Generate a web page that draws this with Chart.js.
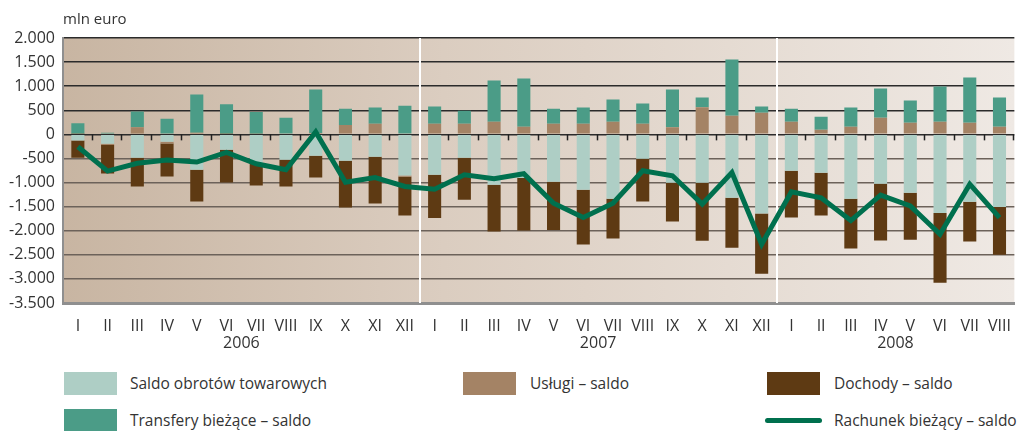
<!DOCTYPE html>
<html lang="pl">
<head>
<meta charset="utf-8">
<title>Rachunek bieżący</title>
<script src="https://cdn.jsdelivr.net/npm/chart.js@4.4.1/dist/chart.umd.min.js"></script>
<style>
    html, body { margin: 0; padding: 0; background: #fff; overflow: hidden; }
    #wrap { position: relative; width: 1017px; height: 431px; font-family: "Open Sans", sans-serif; color: #333; }
    #chartBox { position: absolute; left: 0; top: 0; width: 1017px; height: 360px; }
    .lg-box { position: absolute; width: 53px; height: 23px; }
    .lg-line { position: absolute; width: 57px; height: 5px; border-radius: 3px; background: #00704e; }
    .lg-txt { position: absolute; font-size: 15.5px; line-height: 20px; white-space: nowrap; }
</style>
</head>
<body>
<div id="wrap">
    <div id="chartBox"><canvas id="grafica"></canvas></div>
    <div class="lg-box" style="left:64px; top:372px; background:#aecec5;"></div>
    <div class="lg-txt" style="left:130px; top:373px;">Saldo obrotów towarowych</div>
    <div class="lg-box" style="left:463px; top:372px; background:#a48365;"></div>
    <div class="lg-txt" style="left:530px; top:373px;">Usługi – saldo</div>
    <div class="lg-box" style="left:767px; top:372px; background:#5e3a13;"></div>
    <div class="lg-txt" style="left:834px; top:373px;">Dochody – saldo</div>
    <div class="lg-box" style="left:64px; top:409px; background:#4b9c87;"></div>
    <div class="lg-txt" style="left:130px; top:410px;">Transfery bieżące – saldo</div>
    <div class="lg-line" style="left:765px; top:418px;"></div>
    <div class="lg-txt" style="left:834px; top:410px;">Rachunek bieżący – saldo</div>
</div>
<script>
// --- DATOS (mln euro) ---
const meses = ['I', 'II', 'III', 'IV', 'V', 'VI', 'VII', 'VIII', 'IX', 'X', 'XI', 'XII',
               'I', 'II', 'III', 'IV', 'V', 'VI', 'VII', 'VIII', 'IX', 'X', 'XI', 'XII',
               'I', 'II', 'III', 'IV', 'V', 'VI', 'VII', 'VIII'];
const anios = ['2006', '2007', '2008'];
const mesesPorAnio = [12, 12, 8];

const saldoTowarowe = [-125, -195, -485, -153, -735, -319, -596, -527, -444, -548, -465, -853,
                       -839, -485, -1047, -908, -985, -1151, -1338, -506, -1006, -1006, -1318, -1644,
                       -756, -798, -1338, -1026, -1214, -1630, -1401, -1505];
const uslugi = [10, -28, 146, -35, 35, 10, 15, 20, 28, 194, 222, -28,
                222, 222, 264, 160, 222, 222, 264, 222, 146, 562, 388, 451,
                264, 97, 160, 347, 243, 264, 243, 160];
const dochody = [-360, -590, -596, -687, -659, -680, -465, -555, -451, -971, -971, -804,
                 -895, -874, -971, -1089, -999, -1137, -825, -888, -804, -1200, -1033, -1248,
                 -971, -888, -1033, -1179, -971, -1449, -825, -992];
const transfery = [222, 35, 326, 326, 790, 617, 451, 326, 902, 340, 333, 596,
                   354, 270, 853, 999, 312, 333, 458, 416, 784, 201, 1165, 125,
                   270, 270, 395, 603, 458, 728, 936, 603];
const rachunek = [-257, -763, -600, -534, -575, -374, -610, -735, 49, -992, -895, -1082,
                  -1137, -839, -922, -818, -1429, -1727, -1429, -756, -860, -1449, -791, -2280,
                  -1193, -1318, -1789, -1262, -1484, -2074, -1033, -1727];

const yTicks = { min: -3500, max: 2000, step: 500 };

const fuente = '"Open Sans", sans-serif';

function formatoMiles(v) {
    const s = Math.abs(v).toString().replace(/\B(?=(\d{3})+(?!\d))/g, '.');
    return (v < 0 ? '-' : '') + s;
}

// --- PLUGIN: fondo, separadores de año, marcas en 0, textos ---
const decoracion = {
    id: 'decoracion',
    beforeDraw(chart) {
        const { ctx, chartArea: a } = chart;
        const g = ctx.createLinearGradient(a.left, 0, a.right, 0);
        g.addColorStop(0, '#c8b5a2');
        g.addColorStop(0.4, '#dbcdc0');
        g.addColorStop(1, '#efe9e4');
        ctx.save();
        ctx.fillStyle = g;
        ctx.fillRect(a.left, a.top, a.right - a.left, a.bottom - a.top);
        ctx.restore();
    },
    beforeDatasetsDraw(chart) {
        const { ctx, chartArea: a, scales } = chart;
        const w = (a.right - a.left) / meses.length;
        const y0 = scales.y.getPixelForValue(0);
        ctx.save();
        // marcas entre meses sobre la línea 0
        ctx.strokeStyle = '#222';
        ctx.lineWidth = 1.5;
        let acum = 0;
        const limites = mesesPorAnio.map(n => (acum += n));
        for (let k = 1; k <= meses.length; k++) {
            if (limites.includes(k) && k < meses.length) continue;
            const x = Math.round(a.left + k * w) - 0.5;
            ctx.beginPath();
            ctx.moveTo(x, y0);
            ctx.lineTo(x, y0 + 6);
            ctx.stroke();
        }
        // separadores blancos entre años
        ctx.strokeStyle = '#ffffff';
        ctx.lineWidth = 2;
        limites.slice(0, -1).forEach(k => {
            const x = Math.round(a.left + k * w);
            ctx.beginPath();
            ctx.moveTo(x, a.top);
            ctx.lineTo(x, a.bottom);
            ctx.stroke();
        });
        ctx.restore();
    },
    afterDraw(chart) {
        const { ctx, chartArea: a } = chart;
        const w = (a.right - a.left) / meses.length;
        ctx.save();
        ctx.fillStyle = '#333';
        ctx.font = '15px ' + fuente;
        ctx.textBaseline = 'middle';
        ctx.textAlign = 'left';
        ctx.fillText('mln euro', 63, 20);
        // años bajo los meses
        ctx.font = '16px ' + fuente;
        ctx.textAlign = 'center';
        let inicio = 0;
        anios.forEach((anio, i) => {
            const centro = a.left + (inicio + mesesPorAnio[i] / 2) * w;
            ctx.fillText(anio, centro, 343);
            inicio += mesesPorAnio[i];
        });
        ctx.restore();
    }
};

const barras = (label, data, color) => ({
    type: 'bar',
    label,
    data,
    backgroundColor: color,
    stack: 'saldo',
    order: 1,
    categoryPercentage: 1,
    barPercentage: 0.44
});

new Chart(document.getElementById('grafica'), {
    data: {
        labels: meses,
        datasets: [
            {
                type: 'line',
                label: 'Rachunek bieżący – saldo',
                data: rachunek,
                borderColor: '#00704e',
                borderWidth: 5,
                pointRadius: 0,
                tension: 0,
                stack: 'linea',
                order: 0
            },
            barras('Saldo obrotów towarowych', saldoTowarowe, '#aecec5'),
            barras('Usługi – saldo', uslugi, '#a48365'),
            barras('Dochody – saldo', dochody, '#5e3a13'),
            barras('Transfery bieżące – saldo', transfery, '#4b9c87')
        ]
    },
    options: {
        responsive: true,
        maintainAspectRatio: false,
        animation: false,
        layout: { padding: { top: 38, right: 2, left: 0, bottom: 0 } },
        plugins: { legend: { display: false }, tooltip: { enabled: false } },
        scales: {
            x: {
                stacked: true,
                grid: { display: false },
                border: { display: true, color: '#8f8f8f', width: 3 },
                ticks: { color: '#333', font: { family: fuente, size: 16 }, padding: 6, maxRotation: 0, autoSkip: false },
                afterFit: s => { s.height = 57; }
            },
            y: {
                stacked: true,
                min: yTicks.min,
                max: yTicks.max,
                border: { display: true, color: '#8f8f8f', width: 2 },
                grid: {
                    drawTicks: false,
                    lineWidth: 1.5,
                    color: c => (c.tick && c.tick.value >= 0 ? '#2b2b2b' : '#6c625a')
                },
                ticks: {
                    stepSize: yTicks.step,
                    color: '#333',
                    padding: 8,
                    font: { family: fuente, size: 16 },
                    callback: v => formatoMiles(v)
                },
                afterFit: s => { s.width = 63; }
            }
        }
    },
    plugins: [decoracion]
});
</script>
</body>
</html>
